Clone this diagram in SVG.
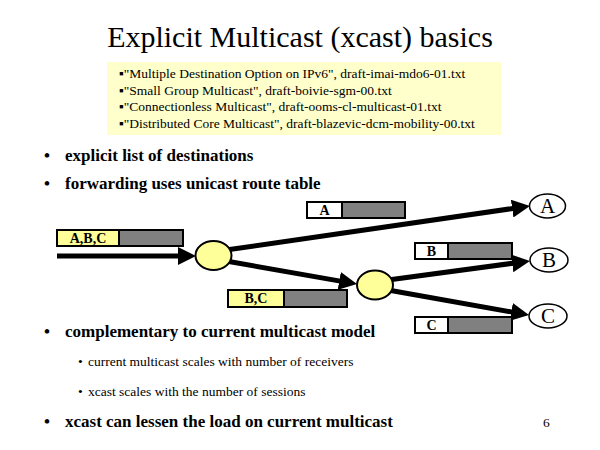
<svg xmlns="http://www.w3.org/2000/svg" width="600" height="450" viewBox="0 0 600 450" font-family="'Liberation Serif', 'Times New Roman', 'DejaVu Serif', serif">
<style>
text{font-family:'Liberation Serif','Times New Roman','DejaVu Serif',serif;fill:#000}
.title{font-size:30px}
.ref{font-size:13.5px}
.b1{font-size:17px;font-weight:bold}
.b2{font-size:13.5px}
.pl{font-size:14px;font-weight:bold;text-anchor:middle}
.nl{font-size:21px;text-anchor:middle}
.lbl{stroke:#000;stroke-width:2}
.gray{fill:#808080;stroke:#000;stroke-width:2}
.router{fill:#FFFF99;stroke:#000;stroke-width:2}
.host{fill:#fff;stroke:#000;stroke-width:1.5}
.link{stroke:#000;stroke-width:5;fill:none;marker-end:url(#ah)}
</style>
<defs>
<marker id="ah" markerUnits="userSpaceOnUse" markerWidth="18" markerHeight="18" refX="4" refY="9" orient="auto" viewBox="0 0 18 18">
<path d="M0,0 L18,9 L0,18 z" fill="#000"/>
</marker>
</defs>
<rect width="600" height="450" fill="#fff"/>
<text class="title" x="300" y="47" text-anchor="middle">Explicit Multicast (xcast) basics</text>
<g id="refs">
<rect x="107" y="62" width="394" height="73" fill="#FFFFCC"/>
<text class="ref" x="119" y="78">▪"Multiple Destination Option on IPv6", draft-imai-mdo6-01.txt</text>
<text class="ref" x="119" y="95">▪"Small Group Multicast", draft-boivie-sgm-00.txt</text>
<text class="ref" x="119" y="111">▪"Connectionless Multicast", draft-ooms-cl-multicast-01.txt</text>
<text class="ref" x="119" y="128">▪"Distributed Core Multicast", draft-blazevic-dcm-mobility-00.txt</text>
</g>
<g id="bullets">
<text class="b1" x="44" y="161">•</text><text class="b1" x="65" y="161">explicit list of destinations</text>
<text class="b1" x="44" y="189">•</text><text class="b1" x="65" y="189">forwarding uses unicast route table</text>
<text class="b1" x="44" y="337">•</text><text class="b1" x="65" y="337">complementary to current multicast model</text>
<text class="b2" x="78" y="366">•</text><text class="b2" x="88" y="366">current multicast scales with number of receivers</text>
<text class="b2" x="78" y="396">•</text><text class="b2" x="88" y="396">xcast scales with the number of sessions</text>
<text class="b1" x="44" y="427">•</text><text class="b1" x="65" y="427">xcast can lessen the load on current multicast</text>
<text class="ref" x="543" y="427">6</text>
</g>
<g id="connectors">
<line class="link" x1="57" y1="256" x2="182" y2="256"/>
<line class="link" x1="226" y1="250" x2="516.1" y2="208"/>
<line class="link" x1="226" y1="261" x2="343.2" y2="281.6"/>
<line class="link" x1="388" y1="280" x2="516.1" y2="262.8"/>
<line class="link" x1="388" y1="290" x2="515.2" y2="312.6"/>
</g>
<g id="pkt-abc">
<rect class="lbl" x="57" y="230" width="62" height="16" fill="#FFFF99"/>
<rect class="gray" x="119" y="230" width="64" height="16"/>
<text class="pl" x="88" y="243">A,B,C</text>
</g>
<g id="pkt-a">
<rect class="lbl" x="307" y="202" width="35" height="16" fill="#fff"/>
<rect class="gray" x="342" y="202" width="63" height="16"/>
<text class="pl" x="324.5" y="215">A</text>
</g>
<g id="pkt-b">
<rect class="lbl" x="415" y="243" width="33" height="16" fill="#fff"/>
<rect class="gray" x="448" y="243" width="64" height="16"/>
<text class="pl" x="431.5" y="256">B</text>
</g>
<g id="pkt-bc">
<rect class="lbl" x="228" y="290" width="56" height="17" fill="#FFFF99"/>
<rect class="gray" x="284" y="290" width="63" height="17"/>
<text class="pl" x="256" y="303">B,C</text>
</g>
<g id="pkt-c">
<rect class="lbl" x="415" y="317" width="33" height="16" fill="#fff"/>
<rect class="gray" x="448" y="317" width="64" height="16"/>
<text class="pl" x="431.5" y="330">C</text>
</g>
<g id="router1"><ellipse class="router" cx="213.5" cy="255.5" rx="18" ry="14.5"/></g>
<g id="router2"><ellipse class="router" cx="375" cy="285" rx="18" ry="14.5"/></g>
<g id="host-a"><ellipse class="host" cx="547.5" cy="206" rx="18" ry="12"/><text class="nl" x="547.5" y="213">A</text></g>
<g id="host-b"><ellipse class="host" cx="549" cy="260" rx="19" ry="12"/><text class="nl" x="549" y="267">B</text></g>
<g id="host-c"><ellipse class="host" cx="548" cy="316" rx="19" ry="12"/><text class="nl" x="548" y="323">C</text></g>
</svg>
